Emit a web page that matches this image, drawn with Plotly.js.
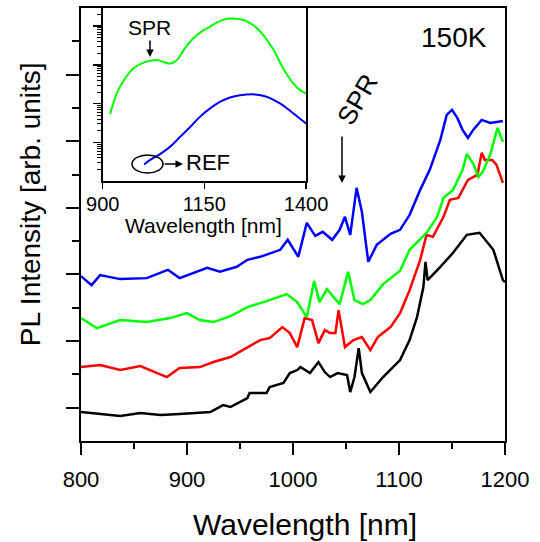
<!DOCTYPE html>
<html>
<head>
<meta charset="utf-8">
<script src="https://cdn.plot.ly/plotly-3.0.1.min.js"></script>
<style>html,body{margin:0;padding:0;background:#fff;}#plot{width:540px;height:542px;}</style>
</head>
<body>
<div id="plot"></div>
<script>
// Main panel (150K), PL intensity in arb. units (offset spectra)
const xBlack = [800,818,837,856,875,893,912,922,934,941,957,959,975,978,991,997,1004,1007,1016,1024,1030,1035,1042,1051,1054,1058,1062,1065,1073,1085,1101,1110,1117,1123,1125,1127,1139,1151,1164,1176,1189,1198,1200];
const yBlack = [0.87,0.81,0.75,0.84,0.78,0.81,0.84,0.87,1.08,1.02,1.29,1.44,1.44,1.62,1.74,2.04,2.13,2.22,2.04,2.37,2.07,1.92,2.04,1.98,1.47,1.92,2.79,2.04,1.47,1.92,2.43,3.03,3.72,4.62,5.38,4.83,5.23,5.65,6.19,6.25,5.74,4.83,4.77];

const xRed = [800,818,837,856,881,893,912,925,941,957,969,978,990,997,1004,1011,1018,1024,1030,1035,1040,1043,1049,1057,1065,1073,1080,1092,1101,1110,1120,1126,1132,1142,1148,1156,1165,1174,1178,1181,1188,1192,1198];
const yRed = [2.22,2.28,2.13,2.25,1.92,2.19,2.22,2.37,2.52,2.82,3.03,3.09,3.42,3.24,2.82,3.69,3.63,2.94,3.33,3.24,3.24,3.93,2.82,3.03,3.12,2.73,3.12,3.42,3.84,4.53,5.44,6.19,6.13,6.73,7.24,7.30,7.84,7.99,8.65,8.44,8.44,8.29,7.75];

const xGreen = [800,815,837,862,884,900,912,925,941,957,975,994,1004,1013,1020,1025,1032,1038,1044,1052,1058,1066,1073,1085,1101,1110,1126,1136,1142,1151,1160,1164,1170,1175,1179,1186,1191,1193,1198];
const yGreen = [3.69,3.39,3.63,3.57,3.69,3.84,3.63,3.57,3.75,4.02,4.20,4.41,4.17,3.72,4.80,4.17,4.56,4.32,4.11,5.08,4.23,4.11,4.23,4.71,5.11,5.74,6.25,6.73,7.30,7.54,8.14,8.62,8.32,7.93,8.08,8.59,9.13,9.40,8.98];

const xBlue = [800,810,818,837,862,882,893,919,931,947,957,969,988,995,1005,1013,1021,1028,1037,1044,1049,1054,1060,1065,1071,1079,1092,1101,1110,1120,1129,1139,1145,1150,1155,1160,1165,1170,1178,1186,1192,1198];
const yBlue = [4.95,4.68,4.98,4.86,4.89,5.14,4.89,5.20,5.08,5.23,5.44,5.53,5.74,6.04,5.53,6.55,6.16,6.28,6.04,6.34,6.73,6.19,7.60,6.88,5.38,5.89,6.22,6.34,6.79,7.54,8.14,9.04,9.79,9.94,9.70,9.34,9.10,9.34,9.64,9.55,9.58,9.61];

// Inset (log scale)
const xInsetSPR = [918,926,938,955,975,996,1016,1033,1049,1061,1074,1086,1102,1123,1143,1164,1180,1205,1221,1246,1270,1295,1320,1344,1369,1385,1400];
const yInsetSPR = [54,102,224,447,813,1096,1288,1349,1202,1096,1148,1479,2692,4898,7244,9772,12303,15488,15849,14454,10715,5888,2455,813,331,224,186];
const xInsetREF = [1002,1016,1041,1066,1090,1115,1139,1164,1188,1213,1238,1275,1303,1336,1369,1400];
const yInsetREF = [2.7,3.5,5.0,7.8,13.8,25.1,45.7,75.9,112,145,166,174,151,102,56,31];

const xTicks = [800,900,1000,1100,1200];
const insetTicks = [900,1150,1400];

const FONT = 'Liberation Sans, Arial, sans-serif';
const lw = 2.5;
const traces = [
  {x:xBlack, y:yBlack, mode:'lines', line:{color:'#000000', width:lw}, xaxis:'x', yaxis:'y'},
  {x:xRed, y:yRed, mode:'lines', line:{color:'#ff0000', width:lw}, xaxis:'x', yaxis:'y'},
  {x:xGreen, y:yGreen, mode:'lines', line:{color:'#00ff00', width:lw}, xaxis:'x', yaxis:'y'},
  {x:xBlue, y:yBlue, mode:'lines', line:{color:'#0000ff', width:lw}, xaxis:'x', yaxis:'y'},
  {x:xInsetSPR, y:yInsetSPR, mode:'lines', line:{color:'#00ff00', width:2, shape:'spline'}, xaxis:'x2', yaxis:'y2'},
  {x:xInsetREF, y:yInsetREF, mode:'lines', line:{color:'#0000ff', width:2, shape:'spline'}, xaxis:'x2', yaxis:'y2'}
];

const minorLog = [];
for (let d = 0; d < 5; d++) for (let k = 2; k <= 9; k++) minorLog.push(k * Math.pow(10, d));

const layout = {
  width:540, height:542,
  margin:{l:81, r:35, t:8, b:101},
  paper_bgcolor:'#fff', plot_bgcolor:'rgba(0,0,0,0)',
  showlegend:false,
  font:{family:FONT, color:'#000'},
  xaxis:{
    range:[800,1200], domain:[0,1], tickmode:'array', tickvals:xTicks, ticktext:xTicks.map(String),
    ticks:'outside', ticklen:12, tickwidth:2, tickcolor:'#000', ticklabelstandoff:6,
    minor:{tickmode:'array', tickvals:[850,950,1050,1150], ticks:'outside', ticklen:6, tickwidth:2, tickcolor:'#000'},
    showline:true, linewidth:2, linecolor:'#000', mirror:true, showgrid:false, zeroline:false,
    tickfont:{size:22, family:FONT}
  },
  yaxis:{
    range:[0,13], domain:[0,1], tickmode:'array', tickvals:[1,3,5,7,9,11],
    ticks:'outside', ticklen:13, tickwidth:2, tickcolor:'#000', showticklabels:false,
    minor:{tickmode:'array', tickvals:[2,4,6,8,10,12], ticks:'outside', ticklen:7, tickwidth:2, tickcolor:'#000'},
    showline:true, linewidth:2, linecolor:'#000', mirror:true, showgrid:false, zeroline:false
  },
  xaxis2:{
    range:[900,1400], domain:[0.0512,0.5307], anchor:'y2', tickmode:'array', tickvals:insetTicks, ticktext:insetTicks.map(String),
    ticks:'outside', ticklen:6, tickwidth:1.5, tickcolor:'#000', ticklabelstandoff:-2,
    showline:true, linewidth:1.5, linecolor:'#000', mirror:true, showgrid:false, zeroline:false,
    tickfont:{size:20, family:FONT}
  },
  yaxis2:{
    type:'log', range:[0,4.47], domain:[0.600,1.0], anchor:'x2',
    tickmode:'array', tickvals:[10,100,1000,10000], showticklabels:false,
    ticks:'outside', ticklen:8, tickwidth:1.5, tickcolor:'#000',
    minor:{tickmode:'array', tickvals:minorLog, ticks:'outside', ticklen:4, tickwidth:1, tickcolor:'#000'},
    showline:true, linewidth:1.5, linecolor:'#000', mirror:true, showgrid:false, zeroline:false
  },
  shapes:[
    {type:'circle', xref:'paper', yref:'paper', x0:0.1203, x1:0.1934, y0:0.619, y1:0.6605, line:{color:'#000', width:1.5}}
  ],
  annotations:[
    {text:'PL Intensity [arb. units]', xref:'paper', yref:'paper', x:-0.1203, y:0.547, textangle:-90, showarrow:false, font:{size:28, family:FONT}, xanchor:'center', yanchor:'middle'},
    {text:'Wavelength [nm]', xref:'paper', yref:'paper', x:0.528, y:-0.1917, showarrow:false, font:{size:30, family:FONT}, xanchor:'center', yanchor:'middle'},
    {text:'Wavelength [nm]', xref:'paper', yref:'paper', x:0.290, y:0.497, showarrow:false, font:{size:21, family:FONT}, xanchor:'center', yanchor:'middle'},
    {text:'150K', xref:'paper', yref:'paper', x:0.8797, y:0.933, showarrow:false, font:{size:28, family:FONT}, xanchor:'center', yanchor:'middle'},
    {text:'SPR', xref:'paper', yref:'paper', x:0.651, y:0.7875, textangle:-60, showarrow:false, font:{size:26, family:FONT}, xanchor:'center', yanchor:'middle'},
    {text:'', xref:'paper', yref:'paper', x:(342-81)/424, y:(441-183)/433, showarrow:true, ax:0, ay:-48, arrowhead:2, arrowsize:1, arrowwidth:1.5, arrowcolor:'#000'},
    {text:'SPR', xref:'paper', yref:'paper', x:0.1627, y:0.954, showarrow:false, font:{size:21, family:FONT}, xanchor:'center', yanchor:'middle'},
    {text:'', xref:'paper', yref:'paper', x:0.1627, y:0.8868, showarrow:true, ax:0, ay:-18, arrowhead:2, arrowsize:1, arrowwidth:1.5, arrowcolor:'#000'},
    {text:'REF', xref:'paper', yref:'paper', x:0.2995, y:0.6443, showarrow:false, font:{size:22, family:FONT}, xanchor:'center', yanchor:'middle'},
    {text:'', xref:'paper', yref:'paper', x:0.2406, y:0.6397, showarrow:true, ax:-20, ay:0, arrowhead:2, arrowsize:1, arrowwidth:1.5, arrowcolor:'#000'}
  ]
};

Plotly.newPlot('plot', traces, layout, {displayModeBar:false, staticPlot:true});
</script>
</body>
</html>
